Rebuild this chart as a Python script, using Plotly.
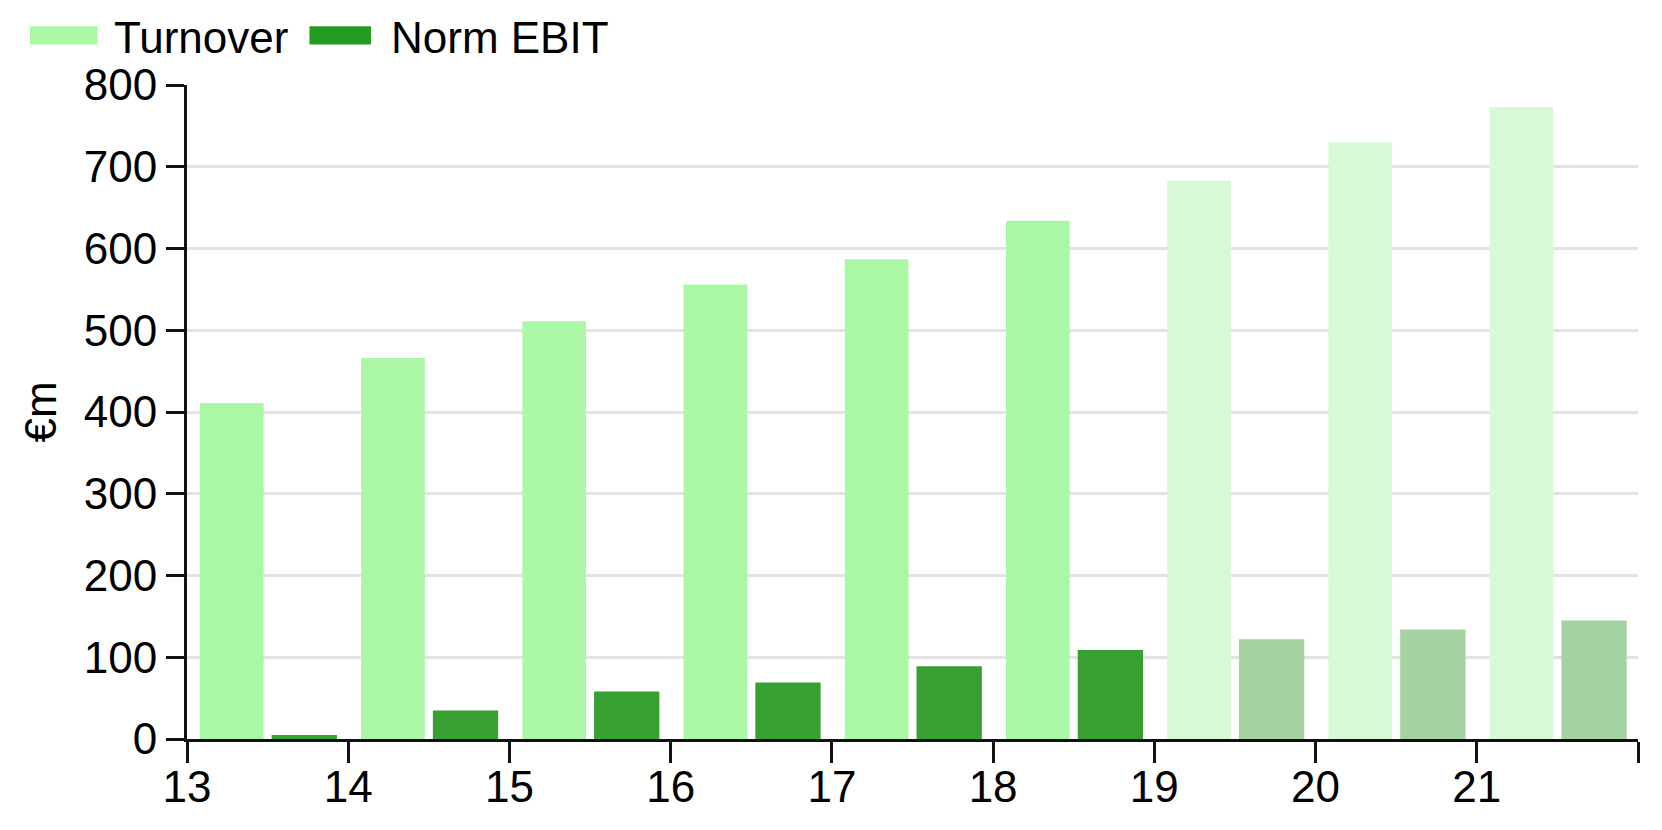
import plotly.graph_objects as go

years = [13, 14, 15, 16, 17, 18, 19, 20, 21]
turnover = [411, 466, 511, 556, 587, 634, 683, 730, 773]
norm_ebit = [5, 35, 58, 69, 89, 109, 122, 134, 145]
is_forecast = [False, False, False, False, False, False, True, True, True]
tick_values = years + [22]
tick_labels = ["13", "14", "15", "16", "17", "18", "19", "20", "21", ""]
series_names = ["Turnover", "Norm EBIT"]

TURN_HIST, TURN_FC = "#aaf7a6", "#d7f9d5"
EBIT_HIST, EBIT_FC = "#38a032", "#a4d3a1"
EBIT_LEGEND = "#259a20"

FONT = "Liberation Sans, Arial, sans-serif"
FS = 44

fig = go.Figure()
fig.add_trace(go.Bar(
    x=years, y=turnover, name=series_names[0], showlegend=False,
    marker=dict(color=[TURN_FC if f else TURN_HIST for f in is_forecast], line=dict(width=0)),
    offset=0.08, width=0.395,
))
fig.add_trace(go.Bar(
    x=years, y=norm_ebit, name=series_names[1], showlegend=False,
    marker=dict(color=[EBIT_FC if f else EBIT_HIST for f in is_forecast], line=dict(width=0)),
    offset=0.525, width=0.405,
))

# manual legend (large rectangular swatches)
legend_items = [
    (series_names[0], TURN_HIST, -0.1082, -0.0617, -0.052),
    (series_names[1], EBIT_LEGEND, 0.0844, 0.1268, 0.1395),
]
for name, col, sx0, sx1, tx in legend_items:
    fig.add_shape(type="rect", xref="paper", yref="paper",
                  x0=sx0, x1=sx1, y0=1.062, y1=1.090,
                  fillcolor=col, line=dict(width=0), layer="above")
    fig.add_annotation(text=name, xref="paper", yref="paper", x=tx, y=1.072,
                       xanchor="left", yanchor="middle", showarrow=False,
                       font=dict(size=FS, family=FONT, color="#000"))

fig.update_layout(
    width=1662, height=830,
    margin=dict(l=179, r=32, t=77, b=99, autoexpand=False),
    paper_bgcolor="white", plot_bgcolor="white",
    barmode="overlay", showlegend=False,
    font=dict(family=FONT, size=FS, color="#000"),
    xaxis=dict(range=[13, 22], tickvals=tick_values, ticktext=tick_labels,
               showline=True, linecolor="#111", linewidth=3,
               ticks="outside", ticklen=21, tickwidth=3, tickcolor="#111",
               ticklabelstandoff=-14,
               showgrid=False, zeroline=False, tickfont=dict(size=FS), automargin=False),
    yaxis=dict(range=[0, 800], dtick=100, showline=True, linecolor="#111", linewidth=3,
               ticks="outside", ticklen=18, tickwidth=3, tickcolor="#111",
               showgrid=True, gridcolor="#e3e3e3", gridwidth=3, zeroline=False,
               tickfont=dict(size=FS), automargin=False,
               title=dict(text="€m", font=dict(size=FS), standoff=14)),
)

fig.write_html("out.html")
